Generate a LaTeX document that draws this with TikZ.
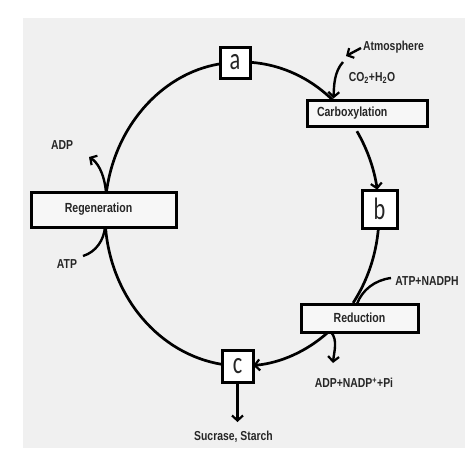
\documentclass[tikz,border=0pt]{standalone}
\usepackage{fontspec}
\setmainfont{Liberation Sans}[FakeStretch=0.8]
\newfontfamily\letterfont{Carlito}
\usetikzlibrary{arrows.meta,calc}
\definecolor{bg}{HTML}{F0F0F0}
\definecolor{boxbg}{HTML}{F7F7F7}
\definecolor{txt}{HTML}{262626}
\begin{document}
\begin{tikzpicture}[x=1pt,y=-1pt,
  lab/.style={font=\bfseries\fontsize{13}{15}\selectfont, text=txt, inner sep=0pt},
  procbox/.style={draw=black, line width=3pt, fill=boxbg, inner ysep=0pt, minimum height=#1, font=\bfseries\fontsize{13.2}{15}\selectfont, text=txt},
  letterbox/.style={draw=black, line width=3pt, fill=white, inner sep=0pt, font=\letterfont\fontsize{31}{31}\selectfont, text=txt},
  cyc/.style={line width=2.7pt, black},
  side/.style={line width=2.4pt, black},
  tip/.style={-{Straight Barb[length=5pt,width=11pt,line width=2.2pt]}},
]
\useasboundingbox (0,0) rectangle (474,463);
\fill[bg] (23,18) rectangle (465,448);

\coordinate (O) at (242,214);
% points on the cycle
\coordinate (p1) at ($(O)+(-86.6:137 and 152)$);
\coordinate (p2) at ($(O)+(-33:137 and 152)$);
\coordinate (p3) at ($(O)+(5.3:137 and 152)$);
\coordinate (p4) at ($(O)+(50.9:137 and 152)$);
\coordinate (p5) at ($(O)+(98.4:137 and 152)$);
\coordinate (p6) at ($(O)+(188.3:137 and 152)$);

% cycle arcs
\draw[cyc] (p1) arc[start angle=-86.6, end angle=-47.2, x radius=137, y radius=152];
\draw[cyc,tip] (p2) arc[start angle=-33, end angle=-9.2, x radius=137, y radius=152];
\draw[cyc] (p3) arc[start angle=5.3, end angle=35.8, x radius=137, y radius=152];
\draw[cyc,tip] (p4) arc[start angle=50.9, end angle=85.3, x radius=137, y radius=152];
\draw[cyc] (p5) arc[start angle=98.4, end angle=175.1, x radius=137, y radius=152];
\draw[cyc,tip] (p6) arc[start angle=188.3, end angle=263.9, x radius=137, y radius=152];

% boxes
\node[letterbox, minimum width=30pt, minimum height=31pt] (a) at (235,62.5) {\scalebox{0.72}[1]{a}};
\node[letterbox, minimum width=35pt, minimum height=38pt] (b) at (379.5,209) {\scalebox{0.72}[1]{b}};
\node[letterbox, minimum width=31pt, minimum height=32pt] (c) at (237.5,366) {\scalebox{0.72}[1]{c}};
\node[procbox=26pt, text width=100pt, inner xsep=10pt, align=left] (carb) at (367,113) {Carboxylation};
\node[procbox=28pt, text width=97pt, inner xsep=10pt, align=center] (red) at (359.5,318) {Reduction};
\node[procbox=35pt, text width=113pt, inner xsep=16pt, align=center] (regen) at (103.5,209.5) {\hspace*{-10pt}Regeneration};

% labels
\node[lab] (atm) at (393.5,47) {Atmosphere};
\node[lab] (co2) at (372,78) {CO\textsubscript{2}+H\textsubscript{2}O};
\node[lab] (adp) at (62,145) {ADP};
\node[lab] (atp) at (67,264) {ATP};
\node[lab] (atpn) at (427,281) {ATP+NADPH};
\node[lab] (adpn) at (354,383) {ADP+NADP\textsuperscript{+}+Pi};
\node[lab] (sug) at (233.5,437) {Sucrase, Starch};

% side connectors
\coordinate (atmS) at (361,48);
\coordinate (atmE) at (346,56);
\draw[side,tip] (atmS) -- (atmE);
\coordinate (co2S) at (343,62);
\draw[side,tip] (co2S) .. controls (334,72) and (334,86) .. ($(carb.north west)+(28,0)$);

\coordinate (adpS) at (106,192);
\coordinate (adpE) at (89,157);
\draw[side,tip] (adpS) .. controls (104,172) and (97,162) .. (adpE);
\coordinate (atpS) at (83,256);
\draw[side] (atpS) .. controls (96,252) and (104,240) .. (105,227);

\coordinate (atpnS) at (391,278);
\draw[side] (atpnS) .. controls (375,280) and (362,290) .. (357,304);
\coordinate (adpnS) at (331,332);
\coordinate (adpnE) at (333,363);
\draw[side,tip] (adpnS) .. controls (338,340) and (334,352) .. (adpnE);

\coordinate (sugE) at (237.5,422);
\draw[side,tip] (c.south) -- (sugE);
\end{tikzpicture}
\end{document}
